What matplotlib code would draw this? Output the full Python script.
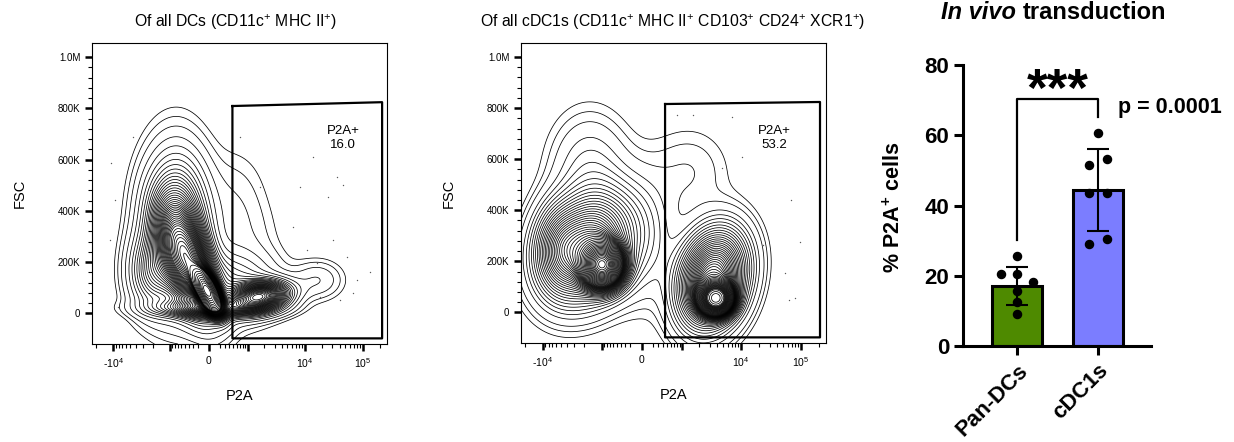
import numpy as np
import matplotlib
matplotlib.use("Agg")
import matplotlib.pyplot as plt

plt.rcParams["font.family"] = ["Liberation Sans", "DejaVu Sans"]
plt.rcParams["mathtext.fontset"] = "custom"
plt.rcParams["mathtext.rm"] = "Liberation Sans"
plt.rcParams["mathtext.it"] = "Liberation Sans:italic"
plt.rcParams["mathtext.bf"] = "Liberation Sans:bold"

BIEX_W = 447.0  # linear width of the biexponential P2A axis

# flow populations, in display units (u = asinh(P2A / W), FSC in thousands)
# columns: u centre, FSC centre, u spread, FSC spread, correlation, weight
dc_pops = [
    (-1.3, 330, 0.75, 165, 0.0, 0.30),
    (-0.8, 200, 0.65, 120, -0.5, 0.30),
    (-0.05, 85, 0.30, 45, -0.6, 0.18),
    (-2.3, 160, 0.55, 90, 0.0, 0.05),
    (2.0, 65, 0.70, 35, 0.2, 0.10),
    (0.8, 110, 1.10, 80, 0.0, 0.07),
    (0.0, 20, 1.30, 22, 0.0, 0.05),
    (4.3, 130, 0.60, 45, 0.0, 0.006),
    (1.6, 300, 0.80, 90, 0.0, 0.004),
    (1.0, 420, 0.80, 130, 0.0, 0.012),
]
cdc1_pops = [
    (-1.5, 185, 0.45, 50, 0.0, 0.20),
    (-2.1, 260, 1.00, 120, 0.2, 0.32),
    (-3.2, 250, 0.55, 100, 0.0, 0.04),
    (-2.0, 560, 0.90, 130, 0.0, 0.03),
    (2.85, 55, 0.35, 35, 0.0, 0.16),
    (2.7, 130, 0.75, 110, 0.2, 0.25),
    (1.8, 550, 1.00, 110, 0.0, 0.01),
    (0.0, 300, 0.80, 150, 0.0, 0.03),
]

# outlier events (P2A, FSC)
dc_out_x = [-4478, -11040, 710, 14030, 35930, 46130, 25570, 8340, 1670, -9220,
            6360, 16300, 53600, 80000, 68900, 134600, 18400, 31200, -11270,
            -8170, 40500, 11040, 27400]
dc_out_y = [687e3, 586e3, 687e3, 609e3, 531e3, 500e3, 453e3, 492e3, 492e3, 441e3,
            336e3, 195e3, 219e3, 129e3, 78e3, 160e3, 62e3, 285e3, 285e3,
            23e3, 51e3, 246e3, 102e3]
cdc1_out_x = [805, 1570, 7100, 4800, 10400, 68200, 96700, 54100, 79200, 62900, 23100]
cdc1_out_y = [773e3, 773e3, 765e3, 565e3, 608e3, 439e3, 275e3, 153e3, 55e3, 47e3, 263e3]

# gates (P2A, FSC)
dc_gate_x = [480, 215000, 215000, 480]
dc_gate_y = [809e3, 824e3, -98e3, -98e3]
cdc1_gate_x = [454, 208000, 208000, 454]
cdc1_gate_y = [816e3, 824e3, -98e3, -98e3]

# bar chart
groups = ["Pan-DCs", "cDC1s"]
means = [17.1, 44.3]
sds = [5.5, 11.7]
pan_vals = [25.7, 20.5, 20.5, 18.2, 15.8, 12.6, 9.1]
pan_offsets = [0, -0.2, 0, 0.2, 0, 0, 0]
cdc1_vals = [60.6, 51.4, 53.1, 43.7, 43.7, 29.1, 30.6]
cdc1_offsets = [0, -0.11, 0.11, -0.11, 0.11, -0.11, 0.11]
bar_colors = ["#4E8A00", "#7B7DFF"]


def fwd(x):
    return np.arcsinh(np.asarray(x, dtype=float) / BIEX_W)


def inv(u):
    return BIEX_W * np.sinh(u)


def density(pops, U, V):
    Z = np.zeros_like(U)
    for mu, mv, su, sv, rho, w in pops:
        du = (U - mu) / su
        dv = (V - mv) / sv
        q = (du ** 2 - 2 * rho * du * dv + dv ** 2) / (1 - rho ** 2)
        Z += w / (su * sv * np.sqrt(1 - rho ** 2)) * np.exp(-0.5 * q)
    return Z


def prob_levels(Z, fractions):
    z = np.sort(Z.ravel())[::-1]
    c = np.cumsum(z)
    c /= c[-1]
    lv = [z[min(np.searchsorted(c, f), len(z) - 1)] for f in fractions]
    return np.unique(lv)


def flow_panel(ax, pops, gate_x, gate_y, label, label_x, out_x, out_y, title, title_x):
    ax.set_xscale("function", functions=(fwd, inv))
    u = np.linspace(-4.7, 7.1, 500)
    v = np.linspace(-120, 1055, 500)
    U, V = np.meshgrid(u, v)
    Z = density(pops, U, V)
    fr = list(np.arange(0.02, 0.99, 0.02)) + [0.99, 0.995]
    ax.contour(inv(U), V * 1000, Z, levels=prob_levels(Z, fr),
               colors="black", linewidths=0.55)
    ax.plot(out_x, out_y, linestyle="none", marker="o", ms=1.0, color="0.35", mew=0)
    ax.plot(gate_x + gate_x[:1], gate_y + gate_y[:1], color="black", lw=1.6)
    ax.text(label_x, 0.684, label, transform=ax.transAxes, ha="center", va="center",
            fontsize=9.5, linespacing=1.2)
    ax.set_xlim(-23000, 262144)
    ax.set_ylim(-120000, 1055000)
    ax.set_xticks([-1e4, -1e3, 0, 1e3, 1e4, 1e5])
    ax.set_xticklabels(["-10$^{4}$", "", "0", "", "10$^{4}$", "10$^{5}$"])
    minors = []
    for d in [100, 1000, 10000]:
        minors += [m * d for m in range(2, 10)]
    minors += [-m * 100 for m in range(2, 10)] + [-m * 1000 for m in range(2, 10)]
    minors += [-2e4, 2e5]
    ax.set_xticks(minors, minor=True)
    ax.set_yticks([0, 2e5, 4e5, 6e5, 8e5, 1e6])
    ax.set_yticklabels(["0", "200K", "400K", "600K", "800K", "1.0M"])
    ax.set_yticks(np.arange(0, 1e6 + 1, 4e4), minor=True)
    ax.tick_params(which="major", length=5, width=1.8, labelsize=7.5)
    ax.tick_params(which="minor", length=3, width=0.8)
    ax.tick_params(axis="y", labelsize=7)
    for s in ax.spines.values():
        s.set_linewidth(0.8)
    ax.set_xlabel("P2A", fontsize=10.5, labelpad=14)
    ax.set_ylabel("FSC", fontsize=10.5, labelpad=22)
    fig.text(title_x, 0.95, title, ha="center", va="center", fontsize=11.3)


fig = plt.figure(figsize=(12.34, 4.42), dpi=100)
ax1 = fig.add_axes([0.0746, 0.2217, 0.2391, 0.681])
ax2 = fig.add_axes([0.4222, 0.2240, 0.2472, 0.6787])
ax3 = fig.add_axes([0.7804, 0.2172, 0.1524, 0.6357])

flow_panel(ax1, dc_pops, dc_gate_x, dc_gate_y, "P2A+\n16.0", 0.85, dc_out_x, dc_out_y,
           r"Of all DCs (CD11c$^{+}$ MHC II$^{+}$)", 236 / 1234)
flow_panel(ax2, cdc1_pops, cdc1_gate_x, cdc1_gate_y, "P2A+\n53.2", 0.83, cdc1_out_x,
           cdc1_out_y,
           r"Of all cDC1s (CD11c$^{+}$ MHC II$^{+}$ CD103$^{+}$ CD24$^{+}$ XCR1$^{+}$)",
           673 / 1234)

# bar chart
x = np.arange(len(groups))
ax3.bar(x, means, width=0.62, color=bar_colors, edgecolor="black", linewidth=2.2, zorder=2)
ax3.errorbar(x, means, yerr=sds, fmt="none", ecolor="black", elinewidth=1.5,
             capsize=8, capthick=1.5, zorder=3)
ax3.scatter(np.array(pan_offsets) + x[0], pan_vals, s=34, color="black", zorder=4)
ax3.scatter(np.array(cdc1_offsets) + x[1], cdc1_vals, s=34, color="black", zorder=4)
ax3.plot([0, 0, 1, 1], [30.3, 70.3, 70.3, 65.1], color="black", lw=1.6, clip_on=False)
ax3.text(0.5, 68.4, "***", ha="center", va="baseline", fontsize=38, fontweight="bold")
ax3.text(1.89, 68, "p = 0.0001", ha="center", va="center", fontsize=15.5,
         fontweight="bold", clip_on=False)
ax3.set_xlim(-0.667, 1.654)
ax3.set_ylim(0, 80)
ax3.set_yticks([0, 20, 40, 60, 80])
ax3.set_xticks(x)
ax3.set_xticklabels(groups, rotation=45, ha="right", va="top", rotation_mode="anchor")
for lab in ax3.get_xticklabels() + ax3.get_yticklabels():
    lab.set_fontweight("bold")
    lab.set_fontsize(16)
ax3.spines["top"].set_visible(False)
ax3.spines["right"].set_visible(False)
ax3.spines["left"].set_linewidth(2.2)
ax3.spines["bottom"].set_linewidth(2.2)
ax3.tick_params(length=6.5, width=2.2)
ax3.set_ylabel(r"% P2A$^{\mathbf{+}}$ cells", fontsize=15.5, fontweight="bold")
ax3.yaxis.set_label_coords(-0.31, 0.495)

title_base = 1 - 19 / 442
t1 = fig.text(941 / 1234, title_base, "In vivo ", ha="left", va="baseline",
              fontsize=17, fontweight="bold", fontstyle="italic")
fig.canvas.draw()
bb = t1.get_window_extent()
fig.text(bb.x1 / fig.bbox.width, title_base, "transduction", ha="left", va="baseline",
         fontsize=17, fontweight="bold")

fig.savefig("out.png", dpi=100)
